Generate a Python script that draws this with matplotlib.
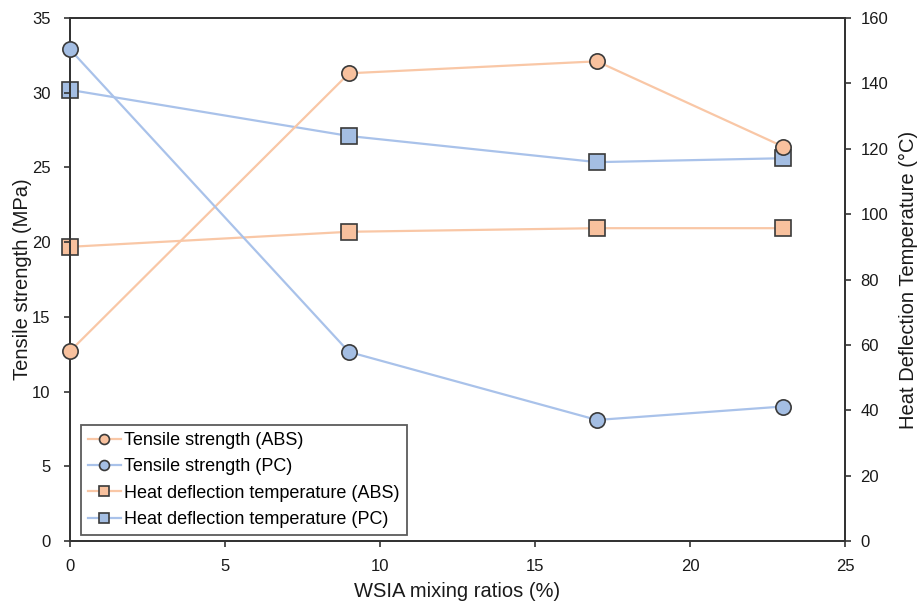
import numpy as np
import matplotlib.pyplot as plt

plt.rcParams['font.family'] = ['Liberation Sans', 'DejaVu Sans']

# WSIA mixing ratios (%)
ratios = [0, 9, 17, 23]

# Tensile strength (MPa)
tensile_abs = [12.7, 31.3, 32.1, 26.4]
tensile_pc = [32.9, 12.65, 8.1, 9.0]

# Heat deflection temperature (°C)
hdt_abs = [90.0, 94.6, 95.7, 95.7]
hdt_pc = [138.0, 123.9, 115.9, 117.1]

orange_line = '#F9C7A6'
orange_fill = '#F8C19E'
blue_line = '#A9C2EA'
blue_fill = '#A4BEE3'
edge = '#3a3a3a'

fig = plt.figure(figsize=(9.19, 6.04), dpi=100)
ax = fig.add_axes([70 / 919, 1 - 541 / 604, 775 / 919, 523 / 604])
ax2 = ax.twinx()

style = dict(lw=1.6, ms=11, markeredgecolor=edge, markeredgewidth=1.2, clip_on=False)
l1, = ax.plot(ratios, tensile_abs, color=orange_line, marker='o',
              markerfacecolor=orange_fill, label='Tensile strength (ABS)', zorder=3, **style)
l2, = ax.plot(ratios, tensile_pc, color=blue_line, marker='o',
              markerfacecolor=blue_fill, label='Tensile strength (PC)', zorder=3, **style)
l3, = ax2.plot(ratios, hdt_abs, color=orange_line, marker='s',
               markerfacecolor=orange_fill, label='Heat deflection temperature (ABS)', **style)
l4, = ax2.plot(ratios, hdt_pc, color=blue_line, marker='s',
               markerfacecolor=blue_fill, label='Heat deflection temperature (PC)', **style)

ax.set_xlim(0, 25)
ax.set_ylim(0, 35)
ax2.set_ylim(0, 160)
ax.set_xticks(np.arange(0, 26, 5))
ax.set_yticks(np.arange(0, 36, 5))
ax2.set_yticks(np.arange(0, 161, 20))

for a in (ax, ax2):
    for s in a.spines.values():
        s.set_color('#333333')
        s.set_linewidth(1.3)
    a.tick_params(direction='out', length=4, width=1.2, colors='#333333',
                  labelsize=12, labelcolor='#1a1a1a', pad=7)
ax.tick_params(axis='y', pad=10)
ax.tick_params(axis='x', pad=9)

ax.set_xlabel('WSIA mixing ratios (%)', fontsize=14.5, color='#1a1a1a', labelpad=6)
ax.set_ylabel('Tensile strength (MPa)', fontsize=14.5, color='#1a1a1a', labelpad=0)
ax2.set_ylabel('Heat Deflection Temperature (°C)', fontsize=14.5, color='#1a1a1a', labelpad=8)

leg = ax.legend(handles=[l1, l2, l3, l4], loc='lower left', bbox_to_anchor=(0.014, 0.011),
                fontsize=13, frameon=True, fancybox=False, edgecolor='#333333',
                handlelength=1.8, handletextpad=0.2, borderpad=0.4, labelspacing=0.52,
                borderaxespad=0, markerscale=0.65)
leg.get_frame().set_linewidth(1.3)
ax.set_zorder(ax2.get_zorder() + 1)
ax.patch.set_visible(False)

fig.savefig('out.png', dpi=100)
